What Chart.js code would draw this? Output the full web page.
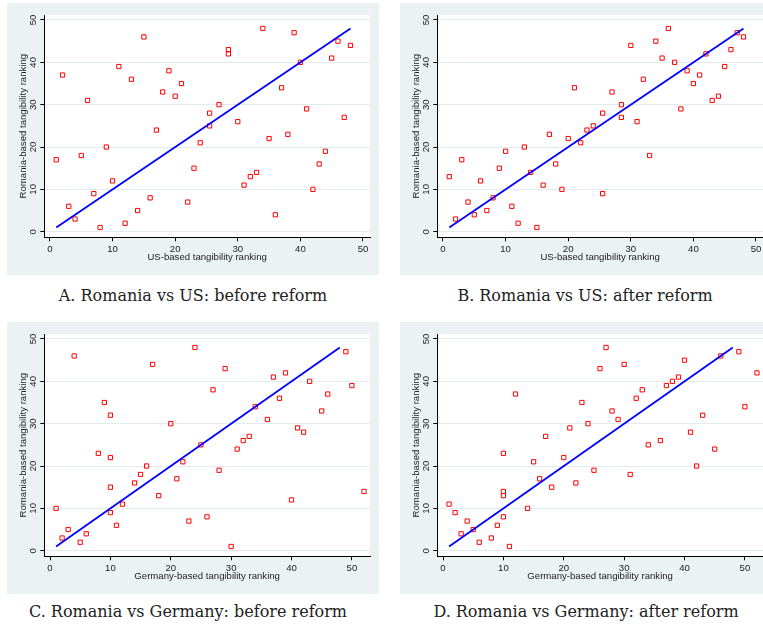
<!DOCTYPE html>
<html>
<head>
<meta charset="utf-8">
<script src="https://cdn.jsdelivr.net/npm/chart.js@4.4.1/dist/chart.umd.min.js"></script>
<style>
  html, body { margin: 0; padding: 0; background: #fff; width: 763px; height: 627px; overflow: hidden; }
  .panel { position: absolute; width: 372px; height: 272px; background: #eaf2f3; }
  .panel canvas { display: block; }
  .caption {
    position: absolute; white-space: nowrap; transform: translateX(-50%);
    font-family: "DejaVu Serif", serif; font-size: 16px; line-height: 20px; color: #222;
  }
</style>
</head>
<body>
<div class="panel" style="left:7px; top:3px;"><canvas id="chartA" width="372" height="272"></canvas></div>
<div class="panel" style="left:400px; top:3px;"><canvas id="chartB" width="372" height="272"></canvas></div>
<div class="panel" style="left:7px; top:322px;"><canvas id="chartC" width="372" height="272"></canvas></div>
<div class="panel" style="left:400px; top:322px;"><canvas id="chartD" width="372" height="272"></canvas></div>

<div class="caption" style="left:193px; top:286px;">A. Romania vs US: before reform</div>
<div class="caption" style="left:585px; top:286px;">B. Romania vs US: after reform</div>
<div class="caption" style="left:188px; top:602px;">C. Romania vs Germany: before reform</div>
<div class="caption" style="left:586px; top:602px;">D. Romania vs Germany: after reform</div>

<script>
// Rankings (x = foreign ranking, y = Romania ranking)
const xA = [1, 2, 3, 4, 5, 6, 7, 8, 9, 10, 11, 12, 13, 14, 15, 16, 17, 18, 19, 20, 21, 22, 23, 24,
            25.5, 25.5, 27, 28.5, 28.5, 30, 31, 32, 33, 34, 35, 36, 37, 38, 39, 40, 41, 42, 43, 44, 45, 46, 47, 48];
const yA = [17, 37, 6, 3, 18, 31, 9, 1, 20, 12, 39, 2, 36, 5, 46, 8, 24, 33, 38, 32, 35, 7, 15, 21,
            25, 28, 30, 43, 42, 26, 11, 13, 14, 48, 22, 4, 34, 23, 47, 40, 29, 10, 16, 19, 41, 45, 27, 44];

const xB = [1, 2, 3, 4, 5, 6, 7, 8, 9, 10, 11, 12, 13, 14, 15, 16, 17, 18, 19, 20, 21, 22, 23, 24,
            25.5, 25.5, 27, 28.5, 28.5, 30, 31, 32, 33, 34, 35, 36, 37, 38, 39, 40, 41, 42, 43, 44, 45, 46, 47, 48];
const yB = [13, 3, 17, 7, 4, 12, 5, 8, 15, 19, 6, 2, 20, 14, 1, 11, 23, 16, 10, 22, 34, 21, 24, 25,
            9, 28, 33, 30, 27, 44, 26, 36, 18, 45, 41, 48, 40, 29, 38, 35, 37, 42, 31, 32, 39, 43, 47, 46];

const xC = [1, 2, 3, 4, 5, 6, 8, 9, 10, 10, 10, 10, 11, 12, 14, 15, 16, 17, 18, 20, 21, 22, 23, 24,
            25, 26, 27, 28, 29, 30, 31, 32, 33, 34, 36, 37, 38, 39, 40, 41, 42, 43, 45, 46, 49, 50, 52];
const yC = [10, 3, 5, 46, 2, 4, 23, 35, 32, 22, 15, 9, 6, 11, 16, 18, 20, 44, 13, 30, 17, 21, 7, 48,
            25, 8, 38, 19, 43, 1, 24, 26, 27, 34, 31, 41, 36, 42, 12, 29, 28, 40, 33, 37, 47, 39, 14];

const xD = [1, 2, 3, 4, 5, 6, 8, 9, 10, 10, 10, 10, 11, 12, 14, 15, 16, 17, 18, 20, 21, 22, 23,
            24, 25, 26, 27, 28, 29, 30, 31, 32, 33, 34, 36, 37, 38, 39, 40, 41, 42, 43, 45, 46, 49, 50, 52];
const yD = [11, 9, 4, 7, 5, 2, 3, 6, 23, 14, 13, 8, 1, 37, 10, 21, 17, 27, 15, 22, 29, 16, 35,
            30, 19, 43, 48, 33, 31, 44, 18, 36, 38, 25, 26, 39, 40, 41, 45, 28, 20, 32, 24, 46, 47, 34, 42];

// 45-degree reference line
const lineX = [1, 48];
const lineY = [1, 48];

const xTicks = [0, 10, 20, 30, 40, 50];
const yTicks = [0, 10, 20, 30, 40, 50];

const yTitle = "Romania-based tangibility ranking";

const FONT = "'Liberation Sans', Arial, sans-serif";
const TEXT = '#222';
const GRID = '#e2ebee';

// paints the plot region white on top of the bluish graph region
const whiteArea = {
  id: 'whiteArea',
  beforeDraw(chart) {
    const { ctx, chartArea: a } = chart;
    ctx.save();
    ctx.fillStyle = '#fff';
    ctx.fillRect(a.left, a.top, a.right - a.left, a.bottom - a.top);
    ctx.restore();
  }
};

function toPoints(xs, ys) {
  return xs.map((x, i) => ({ x, y: ys[i] }));
}

function makeChart(id, xs, ys, xTitle, xMin, xMax) {
  const ctx = document.getElementById(id).getContext('2d');
  return new Chart(ctx, {
    type: 'scatter',
    data: {
      datasets: [
        {
          type: 'line',
          data: toPoints(lineX, lineY),
          borderColor: '#0000ff',
          borderWidth: 1.8,
          pointRadius: 0,
          tension: 0,
          fill: false,
          order: 0
        },
        {
          type: 'scatter',
          data: toPoints(xs, ys),
          pointStyle: 'rect',
          pointRadius: 3,
          pointBorderWidth: 1,
          pointBorderColor: '#ff0000',
          pointBackgroundColor: 'rgba(0,0,0,0)',
          order: 1
        }
      ]
    },
    options: {
      responsive: false,
      devicePixelRatio: 1,
      animation: false,
      layout: { padding: { left: 0, right: 9, top: 12, bottom: 0 } },
      plugins: { legend: { display: false }, tooltip: { enabled: false } },
      scales: {
        x: {
          type: 'linear',
          min: xMin,
          max: xMax,
          afterBuildTicks: (s) => { s.ticks = xTicks.map(v => ({ value: v })); },
          afterFit: (s) => { s.height = 37.7; },
          grid: { drawOnChartArea: false, tickLength: 4, tickColor: '#000', tickWidth: 1 },
          border: { display: true, color: '#000', width: 1 },
          ticks: { font: { family: FONT, size: 9.6 }, color: TEXT, padding: 2, maxRotation: 0 },
          title: {
            display: true, text: xTitle, color: TEXT,
            font: { family: FONT, size: 9.6 }, padding: { top: 0, bottom: 11.5 }
          }
        },
        y: {
          type: 'linear',
          min: -1.32,
          max: 51.18,
          afterBuildTicks: (s) => { s.ticks = yTicks.map(v => ({ value: v })); },
          afterFit: (s) => { s.width = 37.3; },
          grid: { color: GRID, lineWidth: 1, tickLength: 4, tickColor: '#000', tickWidth: 1 },
          border: { display: true, color: '#000', width: 1 },
          ticks: {
            font: { family: FONT, size: 9.6 }, color: TEXT,
            minRotation: 90, maxRotation: 90, crossAlign: 'center', padding: 1.7
          },
          title: {
            display: true, text: yTitle, color: TEXT,
            font: { family: FONT, size: 9.6 }, padding: { top: 10.7, bottom: 0 }
          }
        }
      }
    },
    plugins: [whiteArea]
  });
}

makeChart('chartA', xA, yA, 'US-based tangibility ranking', -0.91, 51.12);
makeChart('chartB', xB, yB, 'US-based tangibility ranking', -0.91, 51.12);
makeChart('chartC', xC, yC, 'Germany-based tangibility ranking', -0.95, 53);
makeChart('chartD', xD, yD, 'Germany-based tangibility ranking', -0.95, 53);
</script>
</body>
</html>
